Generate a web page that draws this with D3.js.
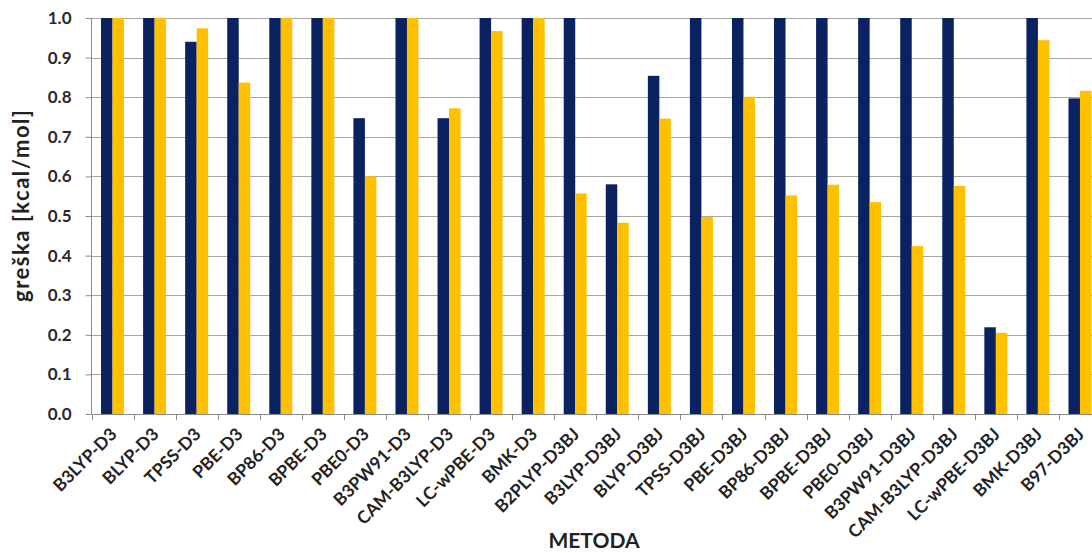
<!DOCTYPE html>
<html>
<head>
<meta charset="utf-8">
<script src="https://cdn.jsdelivr.net/npm/d3@7/dist/d3.min.js"></script>
<style>
  html, body { margin: 0; padding: 0; background: #fff; }
  svg { display: block; }
  text { font-family: Lato, "Open Sans", "DejaVu Sans", sans-serif; }
</style>
</head>
<body>
<svg id="chart" width="1092" height="553"></svg>
<script>
const categories = ["B3LYP-D3","BLYP-D3","TPSS-D3","PBE-D3","BP86-D3","BPBE-D3","PBE0-D3","B3PW91-D3","CAM-B3LYP-D3","LC-wPBE-D3","BMK-D3","B2PLYP-D3BJ","B3LYP-D3BJ","BLYP-D3BJ","TPSS-D3BJ","PBE-D3BJ","BP86-D3BJ","BPBE-D3BJ","PBE0-D3BJ","B3PW91-D3BJ","CAM-B3LYP-D3BJ","LC-wPBE-D3BJ","BMK-D3BJ","B97-D3BJ"];
const seriesA = [1.0,1.0,0.940,1.0,1.0,1.0,0.747,1.0,0.747,1.0,1.0,1.0,0.580,0.854,1.0,1.0,1.0,1.0,1.0,1.0,1.0,0.219,1.0,0.797];
const seriesB = [1.0,1.0,0.974,0.837,1.0,1.0,0.600,1.0,0.772,0.967,1.0,0.557,0.483,0.746,0.498,0.801,0.552,0.579,0.535,0.424,0.576,0.205,0.944,0.816];
const yTicks = [0.0,0.1,0.2,0.3,0.4,0.5,0.6,0.7,0.8,0.9,1.0];
const seriesNames = ["A","B"];
const colors = ["#0B2260","#FFC000"];

const svg = d3.select("#chart");
const mLeft = 91.5, mTop = 18, mBottom = 414, mRight = 1101;

const x = d3.scaleBand().domain(categories).range([mLeft, mRight]).paddingInner(0).paddingOuter(0);
const bw = 11.5;
const x1 = d3.scaleBand().domain(seriesNames).range([(x.bandwidth()-2*bw)/2, (x.bandwidth()+2*bw)/2]).padding(0);
const y = d3.scaleLinear().domain([0, 1]).range([mBottom, mTop]);

// gridlines
svg.append("g").selectAll("line").data(yTicks.filter(d => d > 0)).join("line")
  .attr("x1", mLeft).attr("x2", mRight)
  .attr("y1", d => Math.round(y(d)) + 0.5).attr("y2", d => Math.round(y(d)) + 0.5)
  .attr("stroke", "#a6a6a6").attr("stroke-width", 1);

// bars
const groups = svg.append("g").selectAll("g").data(categories).join("g")
  .attr("transform", d => `translate(${x(d)},0)`);
groups.selectAll("rect").data((d, i) => [
    {s: "A", v: seriesA[i]}, {s: "B", v: seriesB[i]}
  ]).join("rect")
  .attr("x", d => x1(d.s))
  .attr("width", x1.bandwidth())
  .attr("y", d => y(d.v))
  .attr("height", d => y(0) - y(d.v))
  .attr("fill", (d, i) => colors[i]);

// y axis
const yAxis = d3.axisLeft(y).tickValues(yTicks).tickFormat(d3.format(".1f")).tickSize(6).tickPadding(8);
const ya = svg.append("g").attr("transform", `translate(${mLeft},0)`).call(yAxis);
ya.select(".domain").attr("stroke", "#8c8c8c").attr("d", `M0,${mTop}V${mBottom}`);
ya.selectAll(".tick line").attr("stroke", "#8c8c8c");
ya.selectAll(".tick text").attr("fill", "#2a2a2a").style("font-size", "17px").style("font-weight", "bold")
  .style("font-family", "Lato, 'Open Sans', sans-serif").attr("x", -20);

// x axis
const xa = svg.append("g").attr("transform", `translate(0,${mBottom})`);
xa.append("line").attr("x1", mLeft).attr("x2", mRight).attr("y1", 0.5).attr("y2", 0.5).attr("stroke", "#8c8c8c");
xa.selectAll("line.tk").data(categories).join("line").attr("class", "tk")
  .attr("x1", d => Math.round(x(d)) + 0.5).attr("x2", d => Math.round(x(d)) + 0.5)
  .attr("y1", 0).attr("y2", 6).attr("stroke", "#8c8c8c");
xa.selectAll("text").data(categories).join("text")
  .attr("transform", d => `translate(${x(d) + x.bandwidth()/2 + 1},${17}) rotate(-45)`)
  .attr("text-anchor", "end")
  .attr("dy", "0.35em")
  .attr("fill", "#222")
  .style("font-size", "17.5px").style("font-weight", "bold")
  .text(d => d);

// axis titles
svg.append("text")
  .attr("transform", `translate(29,206) rotate(-90)`)
  .attr("text-anchor", "middle")
  .attr("fill", "#222")
  .style("font-size", "22px").style("font-weight", "bold")
  .attr("textLength", 192).attr("lengthAdjust", "spacing")
  .text("greška [kcal/mol]");
svg.append("text")
  .attr("x", 594).attr("y", 548)
  .attr("text-anchor", "middle")
  .attr("fill", "#222")
  .style("font-size", "21px").style("font-weight", "bold")
  .text("METODA");
</script>
</body>
</html>
